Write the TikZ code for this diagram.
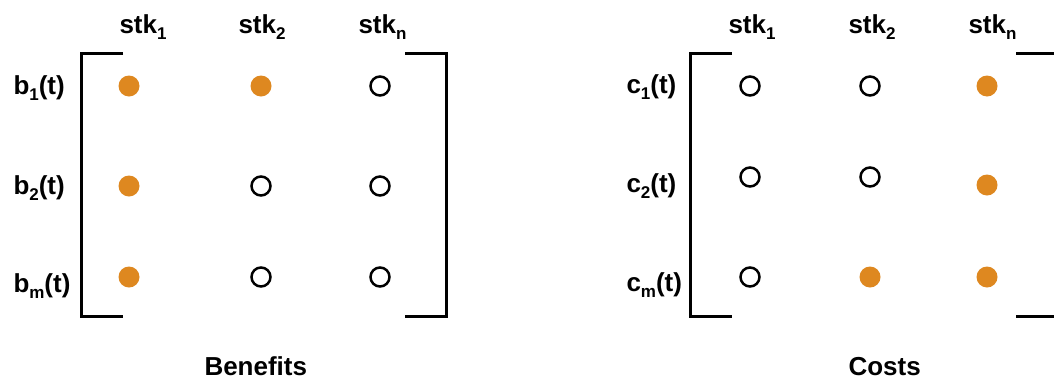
\documentclass[tikz,border=0pt]{standalone}
\usepackage{fontspec}
\setmainfont{Liberation Sans}
\usepackage{tikz}
\definecolor{dotorange}{RGB}{222,136,32}
\newcommand{\ix}[1]{\raisebox{-6pt}{\fontsize{17}{17}\selectfont #1}}

\begin{document}
\begin{tikzpicture}
  [x=1pt,y=-1pt,line width=3pt,
   lbl/.style={inner sep=0pt,font=\fontsize{26}{30}\selectfont\bfseries},
   hd/.style={lbl,anchor=base west},
   on/.style={circle,fill=dotorange,minimum size=21pt,inner sep=0pt},
   off/.style={circle,draw,line width=2.5pt,minimum size=19pt,inner sep=0pt}]
  \clip (0,0) rectangle (1054,381);
  \fill[white] (0,0) rectangle (1054,381);

  % benefits
  \node[hd] (bs1) at (118,33) {stk\ix{1}};
  \node[hd] (bs2) at (237,33) {stk\ix{2}};
  \node[hd] (bsn) at (357,33) {stk\ix{n}};
  \node[hd] (b1) at (12,94)  {b\ix{1}(t)};
  \node[hd] (b2) at (12,194) {b\ix{2}(t)};
  \node[hd] (bm) at (12,292) {b\ix{m}(t)};

  \node[on]  (b11) at (129,86)  {};
  \node[on]  (b12) at (261,86)  {};
  \node[off] (b1n) at (380,86)  {};
  \node[on]  (b21) at (129,186) {};
  \node[off] (b22) at (261,186) {};
  \node[off] (b2n) at (380,186) {};
  \node[on]  (bm1) at (129,277) {};
  \node[off] (bm2) at (261,277) {};
  \node[off] (bmn) at (380,277) {};

  \draw (123,53) -- (81,53) -- (81,316) -- (123,316);
  \draw (405,53) -- (446,53) -- (446,316) -- (405,316);
  \node[hd] (ben) at (203,375) {Benefits};

  % costs
  \node[hd] (cs1) at (727,33) {stk\ix{1}};
  \node[hd] (cs2) at (847,33) {stk\ix{2}};
  \node[hd] (csn) at (967,33) {stk\ix{n}};
  \node[hd] (c1) at (625,93)  {c\ix{1}(t)};
  \node[hd] (c2) at (625,192) {c\ix{2}(t)};
  \node[hd] (cm) at (625,291) {c\ix{m}(t)};

  \node[off] (c11) at (750,86)  {};
  \node[off] (c12) at (870,86)  {};
  \node[on]  (c1n) at (987,86)  {};
  \node[off] (c21) at (750,177) {};
  \node[off] (c22) at (870,177) {};
  \node[on]  (c2n) at (987,185) {};
  \node[off] (cm1) at (750,277) {};
  \node[on]  (cm2) at (870,277) {};
  \node[on]  (cmn) at (987,277) {};

  \draw (732,53) -- (690,53) -- (690,316) -- (732,316);
  \draw (1016,53) -- (1060,53) -- (1060,316) -- (1016,316);
  \node[hd] (cst) at (847,375) {Costs};
\end{tikzpicture}
\end{document}
